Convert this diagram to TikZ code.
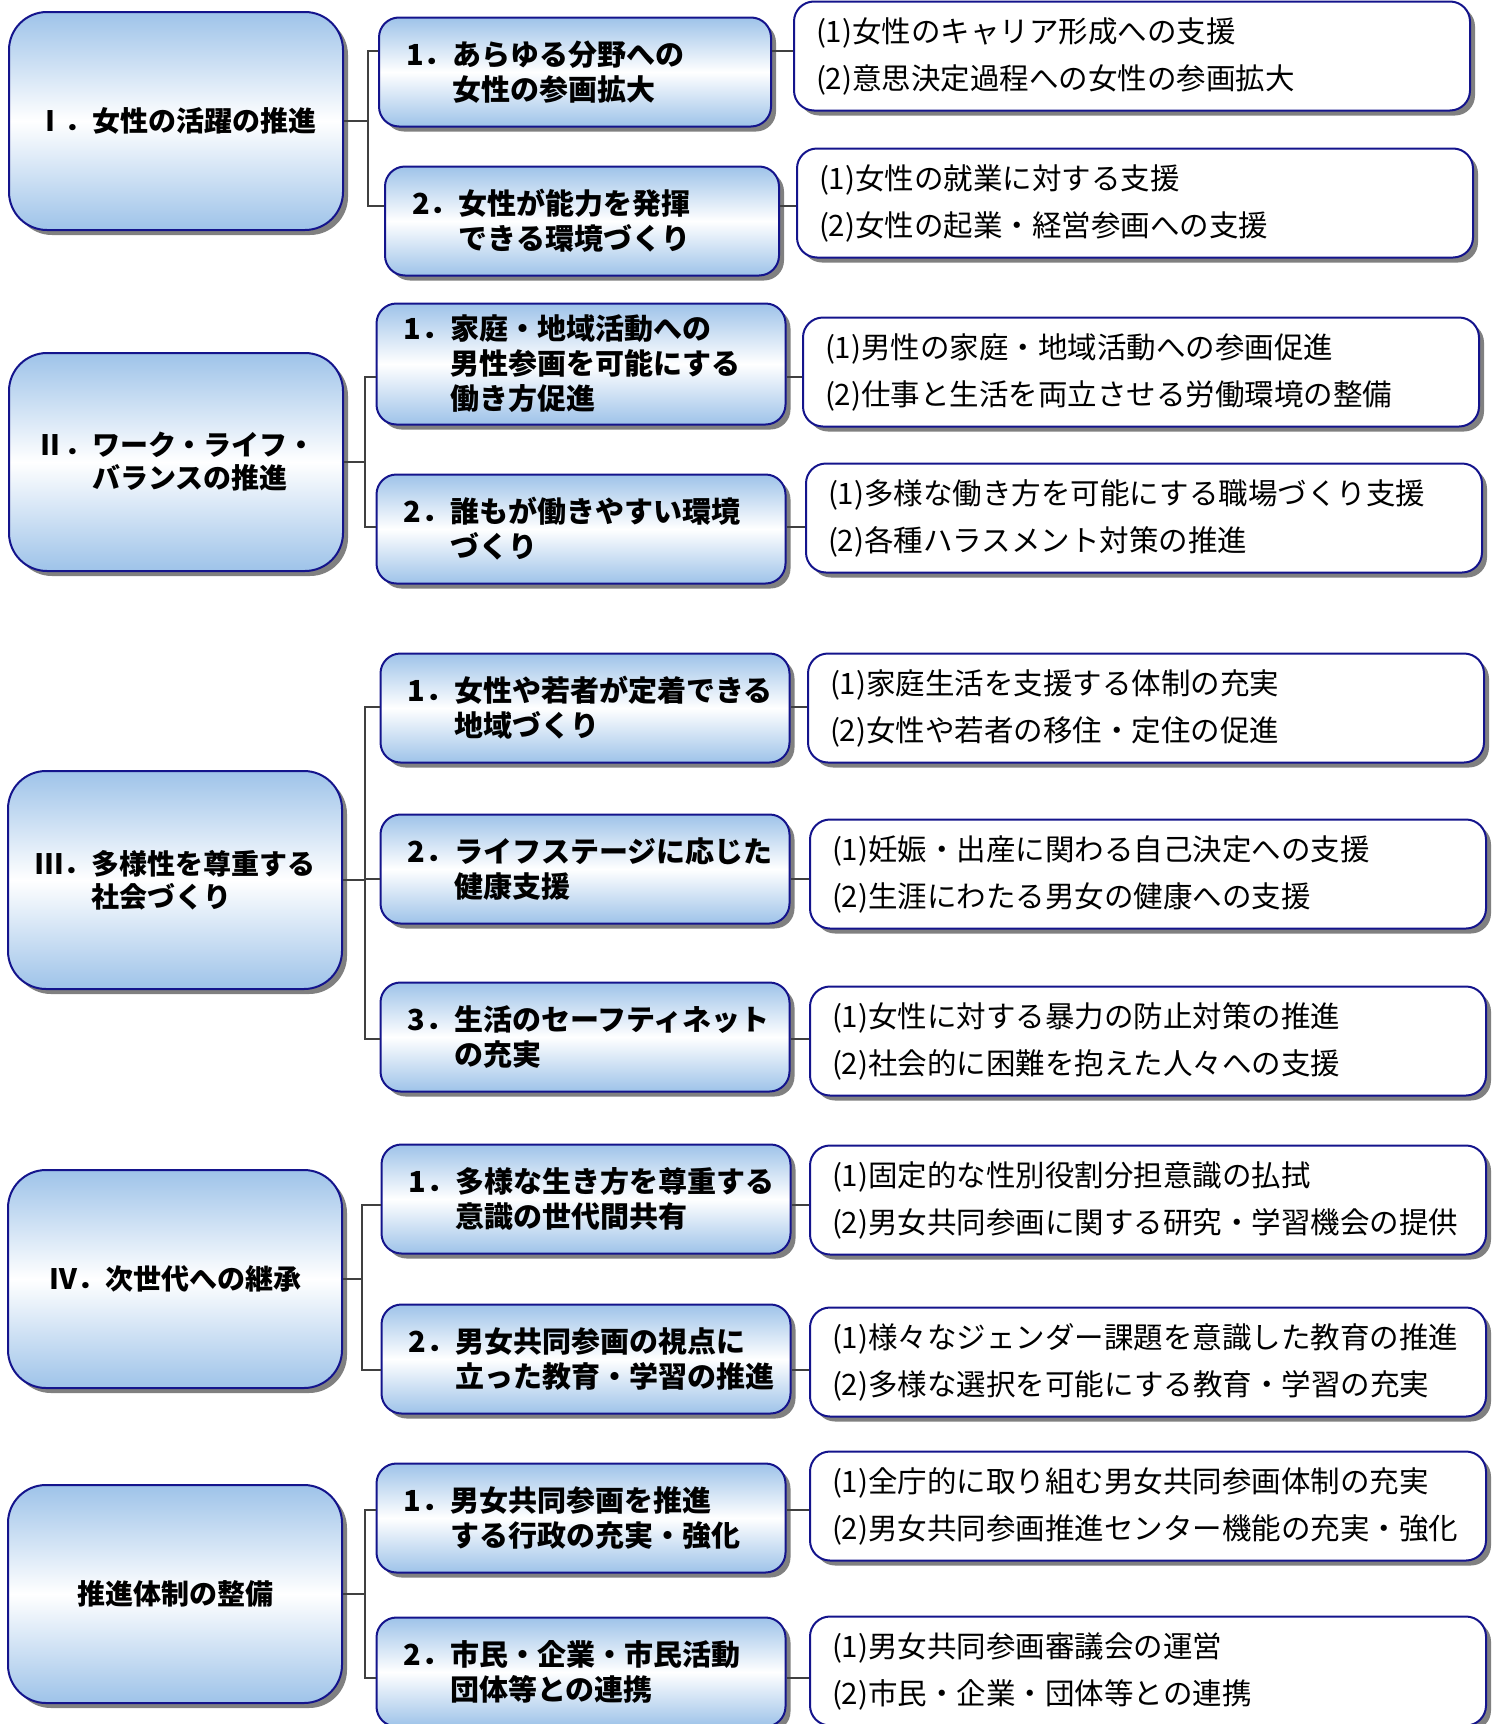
\documentclass[tikz,border=0pt]{standalone}
\usepackage{fontspec}
\setmainfont{Noto Sans CJK JP}
\usetikzlibrary{positioning,shadows}
\definecolor{marino}{RGB}{20,20,140}
\definecolor{celeste}{RGB}{158,195,233}
\definecolor{sombra}{RGB}{128,128,128}
\definecolor{linea}{RGB}{64,64,64}

\begin{document}
\begin{tikzpicture}[x=1pt,y=-1pt]
%% Marco
\useasboundingbox (0,0) rectangle (1499,1724);
\clip (0,0) rectangle (1499,1724);

%% Draw plan tree
  \begin{scope}[
       mokuhyo/.style={rectangle,rounded corners=38pt,draw=marino,line width=2pt,
          top color=celeste,bottom color=celeste,middle color=white,
          drop shadow={shadow xshift=5pt,shadow yshift=-5pt,fill=sombra,opacity=1},
          minimum width=334pt,minimum height=218pt,align=left,
          font=\fontsize{28}{33}\selectfont\bfseries},
       hoko/.style={rectangle,rounded corners=20pt,draw=marino,line width=2pt,
          top color=celeste,bottom color=celeste,middle color=white,
          drop shadow={shadow xshift=5pt,shadow yshift=-5pt,fill=sombra,opacity=1},
          minimum width=409pt,minimum height=109pt,text width=355pt,inner xsep=27pt,align=left,
          font=\fontsize{29}{35}\selectfont\bfseries},
       shisaku/.style={rectangle,rounded corners=20pt,draw=marino,line width=2pt,fill=white,
          drop shadow={shadow xshift=5pt,shadow yshift=-5pt,fill=sombra,opacity=1},
          minimum width=676pt,minimum height=109pt,text width=632pt,inner xsep=22pt,align=left,
          font=\fontsize{29.5}{47}\selectfont},
       rama/.style={draw=linea,line width=1.5pt}]

   %% I
   \node [mokuhyo] (mokuhyo1) at (176,121) {Ⅰ．女性の活躍の推進};
   \node [hoko,minimum width=392pt,text width=338pt] (hoko11) at (575,72) {1．あらゆる分野への\\\hphantom{1．}女性の参画拡大};
   \node [hoko,minimum width=394pt,text width=340pt] (hoko12) at (582,221) {2．女性が能力を発揮\\\hphantom{2．}できる環境づくり};
   \node [shisaku] (shisaku11) at (1132,56) {(1)女性のキャリア形成への支援\\(2)意思決定過程への女性の参画拡大};
   \node [shisaku] (shisaku12) at (1135,203) {(1)女性の就業に対する支援\\(2)女性の起業・経営参画への支援};
   \coordinate (r11) at (368,51);
   \coordinate (r12) at (368,206);
   \draw[rama] (mokuhyo1.east) -- (mokuhyo1.east -| r11);
   \draw[rama] (hoko11.west |- r11) -- (r11) -- (r12) -- (hoko12.west |- r12);
   \draw[rama] (hoko11.east |- r11) -- (shisaku11.west |- r11);
   \draw[rama] (hoko12.east |- r12) -- (shisaku12.west |- r12);

   %% II
   \node [mokuhyo] (mokuhyo2) at (176,462) {Ⅱ．ワーク・ライフ・\\\hphantom{Ⅱ．}バランスの推進};
   \node [hoko,minimum height=121pt] (hoko21) at (581,364) {1．家庭・地域活動への\\\hphantom{1．}男性参画を可能にする\\\hphantom{1．}働き方促進};
   \node [hoko] (hoko22) at (581,529) {2．誰もが働きやすい環境\\\hphantom{2．}づくり};
   \node [shisaku] (shisaku21) at (1141,372) {(1)男性の家庭・地域活動への参画促進\\(2)仕事と生活を両立させる労働環境の整備};
   \node [shisaku] (shisaku22) at (1144,518) {(1)多様な働き方を可能にする職場づくり支援\\(2)各種ハラスメント対策の推進};
   \coordinate (r21) at (365,377);
   \coordinate (r22) at (365,527);
   \draw[rama] (mokuhyo2.east) -- (mokuhyo2.east -| r21);
   \draw[rama] (hoko21.west |- r21) -- (r21) -- (r22) -- (hoko22.west |- r22);
   \draw[rama] (hoko21.east |- r21) -- (shisaku21.west |- r21);
   \draw[rama] (hoko22.east |- r22) -- (shisaku22.west |- r22);

   %% III
   \node [mokuhyo] (mokuhyo3) at (175,880) {Ⅲ．多様性を尊重する\\\hphantom{Ⅲ．}社会づくり};
   \node [hoko] (hoko31) at (585,708) {1．女性や若者が定着できる\\\hphantom{1．}地域づくり};
   \node [hoko] (hoko32) at (585,869) {2．ライフステージに応じた\\\hphantom{2．}健康支援};
   \node [hoko] (hoko33) at (585,1037) {3．生活のセーフティネット\\\hphantom{3．}の充実};
   \node [shisaku] (shisaku31) at (1146,708) {(1)家庭生活を支援する体制の充実\\(2)女性や若者の移住・定住の促進};
   \node [shisaku] (shisaku32) at (1148,874) {(1)妊娠・出産に関わる自己決定への支援\\(2)生涯にわたる男女の健康への支援};
   \node [shisaku] (shisaku33) at (1148,1041) {(1)女性に対する暴力の防止対策の推進\\(2)社会的に困難を抱えた人々への支援};
   \coordinate (r31) at (365,707);
   \coordinate (r32) at (365,879);
   \coordinate (r33) at (365,1039);
   \draw[rama] (mokuhyo3.east) -- (mokuhyo3.east -| r32);
   \draw[rama] (hoko31.west |- r31) -- (r31) -- (r33) -- (hoko33.west |- r33);
   \draw[rama] (r32) -- (hoko32.west |- r32);
   \draw[rama] (hoko31.east |- r31) -- (shisaku31.west |- r31);
   \draw[rama] (hoko32.east |- r32) -- (shisaku32.west |- r32);
   \draw[rama] (hoko33.east |- r33) -- (shisaku33.west |- r33);

   %% IV
   \node [mokuhyo] (mokuhyo4) at (175,1279) {Ⅳ．次世代への継承};
   \node [hoko] (hoko41) at (586,1199) {1．多様な生き方を尊重する\\\hphantom{1．}意識の世代間共有};
   \node [hoko] (hoko42) at (586,1359) {2．男女共同参画の視点に\\\hphantom{2．}立った教育・学習の推進};
   \node [shisaku] (shisaku41) at (1148,1200) {(1)固定的な性別役割分担意識の払拭\\(2)男女共同参画に関する研究・学習機会の提供};
   \node [shisaku] (shisaku42) at (1148,1362) {(1)様々なジェンダー課題を意識した教育の推進\\(2)多様な選択を可能にする教育・学習の充実};
   \coordinate (r41) at (362,1205);
   \coordinate (r42) at (362,1370);
   \draw[rama] (mokuhyo4.east) -- (mokuhyo4.east -| r41);
   \draw[rama] (hoko41.west |- r41) -- (r41) -- (r42) -- (hoko42.west |- r42);
   \draw[rama] (hoko41.east |- r41) -- (shisaku41.west |- r41);
   \draw[rama] (hoko42.east |- r42) -- (shisaku42.west |- r42);

   %% suishin
   \node [mokuhyo] (mokuhyo5) at (175,1594) {推進体制の整備};
   \node [hoko] (hoko51) at (581,1518) {1．男女共同参画を推進\\\hphantom{1．}する行政の充実・強化};
   \node [hoko] (hoko52) at (581,1672) {2．市民・企業・市民活動\\\hphantom{2．}団体等との連携};
   \node [shisaku] (shisaku51) at (1148,1506) {(1)全庁的に取り組む男女共同参画体制の充実\\(2)男女共同参画推進センター機能の充実・強化};
   \node [shisaku] (shisaku52) at (1148,1671) {(1)男女共同参画審議会の運営\\(2)市民・企業・団体等との連携};
   \coordinate (r51) at (365,1510);
   \coordinate (r52) at (365,1678);
   \draw[rama] (mokuhyo5.east) -- (mokuhyo5.east -| r51);
   \draw[rama] (hoko51.west |- r51) -- (r51) -- (r52) -- (hoko52.west |- r52);
   \draw[rama] (hoko51.east |- r51) -- (shisaku51.west |- r51);
   \draw[rama] (hoko52.east |- r52) -- (shisaku52.west |- r52);
  \end{scope}
\end{tikzpicture}
\end{document}
